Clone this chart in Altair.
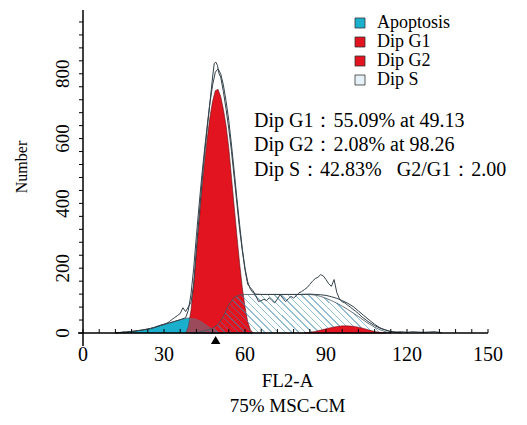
import altair as alt
import pandas as pd

# ---------------- data ----------------
apop_x = [12, 14, 16, 18, 20, 22, 24, 26, 28, 30, 32, 34, 36, 38, 40, 42, 44, 46, 48, 50, 52]
apop_y = [0, 2, 3, 5, 7, 9, 12, 16, 22, 27, 31, 36, 41, 45, 47, 44, 36, 24, 12, 4, 0]

g1_x = [38, 39, 40, 41, 42, 43, 44, 45, 46, 47, 48, 49, 50, 51, 52, 53, 54, 55, 56, 57, 58, 59, 60, 61, 62, 63]
g1_y = [0, 20, 70, 150, 250, 345, 440, 525, 600, 665, 715, 748, 752, 730, 690, 640, 570, 480, 390, 300, 215, 140, 80, 35, 10, 0]

g2_x = [82, 84, 86, 88, 90, 92, 94, 96, 98, 100, 102, 104, 106, 108, 110, 112]
g2_y = [0, 2, 5, 9, 13, 17, 20, 22, 22, 21, 18, 14, 9, 5, 2, 0]

s_x = [40, 42, 44, 46, 48, 50, 52, 54, 56, 58, 60, 64, 70, 76, 80, 84, 86, 88, 90, 92, 94, 96, 98, 100, 102, 104, 106, 108, 110, 112, 114]
s_y = [0, 2, 5, 9, 15, 26, 52, 88, 110, 117, 119, 119, 119, 119, 119, 119, 117, 113, 107, 100, 92, 83, 73, 62, 51, 39, 28, 18, 10, 4, 0]

fit_x = [12, 14, 16, 18, 20, 22, 24, 26, 28, 30, 32, 34, 36, 38, 39, 40, 41, 42, 43, 44, 45, 46, 47, 48, 49, 50, 51, 52, 53, 54, 55, 56, 57, 58, 59, 60, 61, 62, 63, 64, 66, 70, 76, 80, 84, 86, 88, 90, 92, 94, 96, 98, 100, 102, 104, 106, 108, 110, 112, 114, 116, 118]
fit_y = [0, 2, 3, 5, 7, 9, 12, 16, 22, 27, 31, 36, 41, 47, 70, 120, 200, 300, 395, 485, 565, 640, 710, 765, 805, 815, 800, 765, 715, 655, 580, 500, 415, 335, 260, 200, 158, 135, 124, 120, 119, 119, 119, 119, 120, 119, 118, 116, 112, 107, 100, 92, 82, 68, 54, 40, 27, 16, 9, 4, 2, 0]

data_x = [12, 13, 14, 15, 16, 17, 18, 19, 20, 21, 22, 23, 24, 25, 26, 27, 28, 29, 30, 31, 32, 33, 34, 35, 36, 37, 38, 39, 40, 41, 42, 43, 44, 45, 46, 47, 48, 48.6, 49.2, 49.8, 50.4, 51, 52, 53, 54, 55, 56, 57, 58, 59, 60, 61,
          62, 63, 64, 65, 66, 67, 68, 69, 70, 71, 72, 73, 74, 75, 76, 77, 78, 79, 80, 81, 82, 83, 84, 85, 86, 87, 88, 89, 90, 91, 92, 93, 94, 95, 96, 97, 98, 99, 100,
          101, 102, 103, 104, 105, 106, 107, 108, 109, 110, 111, 112, 113, 114, 115, 116, 118, 120, 122, 124, 126, 128, 130, 132, 133]
data_y = [0, 2, 1, 3, 2, 4, 5, 4, 7, 8, 9, 11, 12, 14, 16, 18, 21, 24, 26, 30, 35, 42, 48, 54, 60, 78, 66, 80, 95, 150, 260, 360, 460, 550, 630, 710, 790, 832, 836, 826, 800, 790, 745, 690, 630, 560, 480, 400, 320, 255, 195, 150,
          140, 130, 115, 97, 100, 104, 100, 109, 100, 93, 105, 118, 108, 97, 105, 113, 108, 115, 124, 128, 134, 140, 150, 160, 168, 172, 180, 176, 165, 152, 144, 165, 125, 105, 96, 93, 86, 80, 73,
          67, 60, 52, 45, 39, 33, 28, 23, 19, 15, 12, 10, 7, 5, 4, 3, 4, 2, 4, 3, 2, 3, 4, 2, 0]

legend_names = ["Apoptosis", "Dip G1", "Dip G2", "Dip S"]
annotation = ["Dip G1\uff1a55.09% at 49.13",
              "Dip G2\uff1a2.08% at 98.26",
              "Dip S\uff1a42.83%\u00a0\u00a0\u00a0G2/G1\uff1a2.00"]
x_title = "FL2-A"
subtitle = "75% MSC-CM"
y_title = "Number"
g1_peak = [49.13]
x_labels = [0, 30, 60, 90, 120, 150]
x_minor = list(range(0, 151, 6))
y_labels = [0, 200, 400, 600, 800]
y_minor = list(range(0, 961, 40))

# ---------------- style ----------------
W, H = 405, 324
CYAN = "#1bb0cc"
RED = "#e1141f"
LINE = "#34424b"
HATCH = "rgba(60,135,172,0.55)"
FONT = "Liberation Serif"

def frame(xs, ys, name):
    return pd.DataFrame({"x": xs, "y": ys, "name": name})

apop = frame(apop_x, apop_y, "Apoptosis")
g1 = frame(g1_x, g1_y, "Dip G1")
g2 = frame(g2_x, g2_y, "Dip G2")
sph = frame(s_x, s_y, "Dip S")
fit = frame(fit_x, fit_y, "fit")
raw = frame(data_x, data_y, "data")
one = pd.DataFrame({"k": [0]})

xscale = alt.Scale(domain=[0, 150], nice=False, zero=False)
yscale = alt.Scale(domain=[0, 1000], nice=False)
X = alt.X("x:Q", scale=xscale, axis=None)
Y = alt.Y("y:Q", scale=yscale, axis=None)

fill_scale = alt.Scale(domain=legend_names, range=[CYAN, RED, RED, "#e6f2f7"])
legend = alt.Legend(orient="none", legendX=268, legendY=5, title=None,
                    symbolType="square", symbolSize=100, symbolStrokeColor="#333",
                    symbolStrokeWidth=0.8, symbolOpacity=1, labelFont=FONT,
                    labelFontSize=18, labelColor="black", labelOffset=8,
                    rowPadding=1, padding=0)

# hatch pattern as a striped gradient (style only)
N = 37
frac = 0.22
stops = []
for i in range(N):
    a = i / N
    b = a + frac / N
    stops += [alt.GradientStop(offset=a, color="rgba(255,255,255,0)"),
              alt.GradientStop(offset=a, color=HATCH),
              alt.GradientStop(offset=b, color=HATCH),
              alt.GradientStop(offset=b, color="rgba(255,255,255,0)")]
hatch = alt.LinearGradient(gradient="linear", stops=stops, x1=0, y1=1, x2=1.2, y2=0.768)

l_apop = alt.Chart(apop).mark_area(stroke="#2b3a40", strokeWidth=0.6).encode(
    x=X, y=Y, fill=alt.Fill("name:N", scale=fill_scale, legend=legend))
l_g1 = alt.Chart(g1).mark_area(fill=RED, stroke="#5a1018", strokeWidth=0.6).encode(x=X, y=Y)
l_apop2 = alt.Chart(apop).mark_area(fill=CYAN, opacity=0.35).encode(x=X, y=Y)
l_s = alt.Chart(sph).mark_area(fill=hatch, stroke="#44545f", strokeWidth=0.8).encode(x=X, y=Y)
l_g2 = alt.Chart(g2).mark_area(fill=RED, stroke="#5a1018", strokeWidth=0.5).encode(x=X, y=Y)
l_fit = alt.Chart(fit).mark_line(color=LINE, strokeWidth=1).encode(x=X, y=Y)
l_raw = alt.Chart(raw).mark_line(color=LINE, strokeWidth=1).encode(x=X, y=Y)

# axes drawn by hand
l_xdom = alt.Chart(one).mark_rule(color="black", strokeWidth=1.5).encode(
    x=alt.value(-5), x2=alt.value(W), y=alt.value(H))
l_ydom = alt.Chart(one).mark_rule(color="black", strokeWidth=1.5).encode(
    x=alt.value(0), y=alt.value(1), y2=alt.value(H + 13))
l_xticks = alt.Chart(pd.DataFrame({"x": x_minor})).mark_rule(color="black", strokeWidth=1).encode(
    x=X, y=alt.value(H), y2=alt.value(H - 4))
l_yticks = alt.Chart(pd.DataFrame({"y": y_minor})).mark_rule(color="black", strokeWidth=1).encode(
    y=Y, x=alt.value(0), x2=alt.value(-4))
l_xlab = alt.Chart(pd.DataFrame({"x": x_labels})).mark_text(
    font=FONT, fontSize=20, color="black", align="center", baseline="middle").encode(
    x=X, y=alt.value(H + 22), text=alt.Text("x:Q"))
l_ylab = alt.Chart(pd.DataFrame({"y": y_labels})).mark_text(
    font=FONT, fontSize=19, color="black", align="center", baseline="middle", angle=270).encode(
    y=Y, x=alt.value(-20), text=alt.Text("y:Q"))
l_xtitle = alt.Chart(pd.DataFrame({"t": [x_title]})).mark_text(
    font=FONT, fontSize=19, color="black", align="center", baseline="middle").encode(
    text="t", x=alt.value(W / 2 + 2), y=alt.value(H + 48))
l_sub = alt.Chart(pd.DataFrame({"t": [subtitle]})).mark_text(
    font=FONT, fontSize=19, color="black", align="center", baseline="middle").encode(
    text="t", x=alt.value(W / 2 + 2), y=alt.value(H + 73))
l_ytitle = alt.Chart(pd.DataFrame({"t": [y_title]})).mark_text(
    font=FONT, fontSize=16, color="black", align="center", baseline="middle", angle=270).encode(
    text="t", x=alt.value(-61), y=alt.value(158))

l_tri = alt.Chart(pd.DataFrame({"x": g1_peak})).mark_point(
    shape="triangle-up", filled=True, color="black", size=90, opacity=1).encode(
    x=X, y=alt.value(H + 7))
l_txt = alt.Chart(pd.DataFrame({"t": [annotation]})).mark_text(
    align="left", baseline="alphabetic", font=FONT, fontSize=20, color="black",
    lineHeight=24.5).encode(text="t", x=alt.value(171), y=alt.value(117.6))

chart = alt.layer(l_apop, l_g1, l_apop2, l_s, l_g2, l_fit, l_raw,
                  l_xdom, l_ydom, l_xticks, l_yticks, l_xlab, l_ylab,
                  l_xtitle, l_sub, l_ytitle, l_tri, l_txt).properties(
    width=W, height=H,
    autosize=alt.AutoSizeParams(type="none"),
    padding={"left": 75, "top": 1, "right": 25, "bottom": 84},
).configure_view(stroke=None)

chart.save("out.html", embed_options={"renderer": "svg", "actions": False})
